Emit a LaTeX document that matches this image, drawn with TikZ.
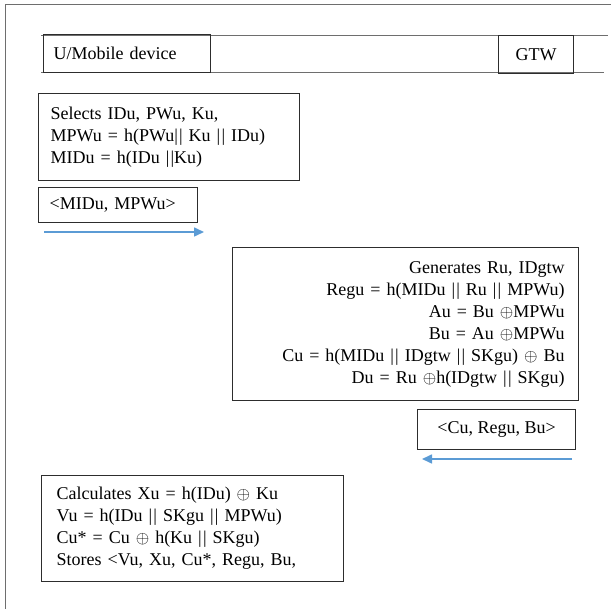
\documentclass[tikz,border=0pt]{standalone}
\usepackage{fontspec}
\setmainfont{Liberation Serif}
\usetikzlibrary{arrows.meta}
\definecolor{boxgray}{RGB}{45,45,45}
\definecolor{linegray}{RGB}{110,110,110}
\definecolor{arrowblue}{RGB}{91,155,213}
\newcommand{\bars}{|\kern1.2pt|}

\tikzset{
  msgbox/.style={draw=boxgray, line width=1.3pt, rectangle, anchor=north west,
    inner ysep=0pt, font=\fontsize{18}{22}\selectfont},
  msgarrow/.style={-{Triangle[length=10pt,width=9pt]}, arrowblue, line width=1.6pt}
}

\begin{document}
\begin{tikzpicture}[x=1pt, y=-1pt]
    \useasboundingbox (0,0) rectangle (611,609);

    % Kader
    \draw[linegray, line width=1pt] (5,609) -- (5,5) -- (611,5);

    % Levenslijnen
    \draw[linegray, line width=0.9pt] (41,35) -- (608,35);
    \draw[linegray, line width=0.9pt] (41,72) -- (604,72);

    % Deelnemers
    \node[msgbox, minimum width=167pt, minimum height=38pt, text width=147pt,
      inner xsep=10pt, align=left] (user) at (43,34) {U/Mobile device};
    \node[msgbox, minimum width=75pt, minimum height=38pt] (gtw) at (498,35) {GTW};

    % Registratie bij gebruiker
    \node[msgbox, minimum width=261pt, minimum height=87pt, text width=237pt,
      inner xsep=12pt, align=left] (select) at (38,93)
      {Selects IDu, PWu, Ku,\\
       MPWu = h(PWu\bars{} Ku \bars{} IDu)\\
       MIDu = h(IDu \bars Ku)};
    \node[msgbox, minimum width=159pt, minimum height=35pt, text width=137pt,
      inner xsep=11pt, align=left] (req) at (38,187) {<MIDu, MPWu>};

    % Bericht naar gateway
    \coordinate (reqA) at (44,232);
    \coordinate (reqB) at (204,232);
    \draw[msgarrow] (reqA) -- (reqB);

    % Berekening in gateway
    \node[msgbox, minimum width=346pt, minimum height=153pt, text width=318pt,
      inner xsep=14pt, align=right] (gen) at (232,247)
      {Generates Ru, IDgtw\\
       Regu = h(MIDu \bars{} Ru \bars{} MPWu)\\
       Au = Bu $\oplus$MPWu\\
       Bu = Au $\oplus$MPWu\\
       Cu = h(MIDu \bars{} IDgtw \bars{} SKgu) $\oplus$ Bu\\
       Du = Ru $\oplus$h(IDgtw \bars{} SKgu)};
    \node[msgbox, minimum width=158pt, minimum height=40pt] (resp) at (417,409)
      {<Cu, Regu, Bu>};

    % Antwoord naar gebruiker
    \coordinate (respA) at (572,459);
    \coordinate (respB) at (422,459);
    \draw[msgarrow] (respA) -- (respB);

    % Opslag bij gebruiker
    \node[msgbox, minimum width=302pt, minimum height=106pt, text width=272pt,
      inner xsep=15pt, align=left] (store) at (41,475)
      {Calculates Xu = h(IDu) $\oplus$ Ku\\
       Vu = h(IDu \bars{} SKgu \bars{} MPWu)\\
       Cu* = Cu $\oplus$ h(Ku \bars{} SKgu)\\
       Stores <Vu, Xu, Cu*, Regu, Bu,};
\end{tikzpicture}
\end{document}
